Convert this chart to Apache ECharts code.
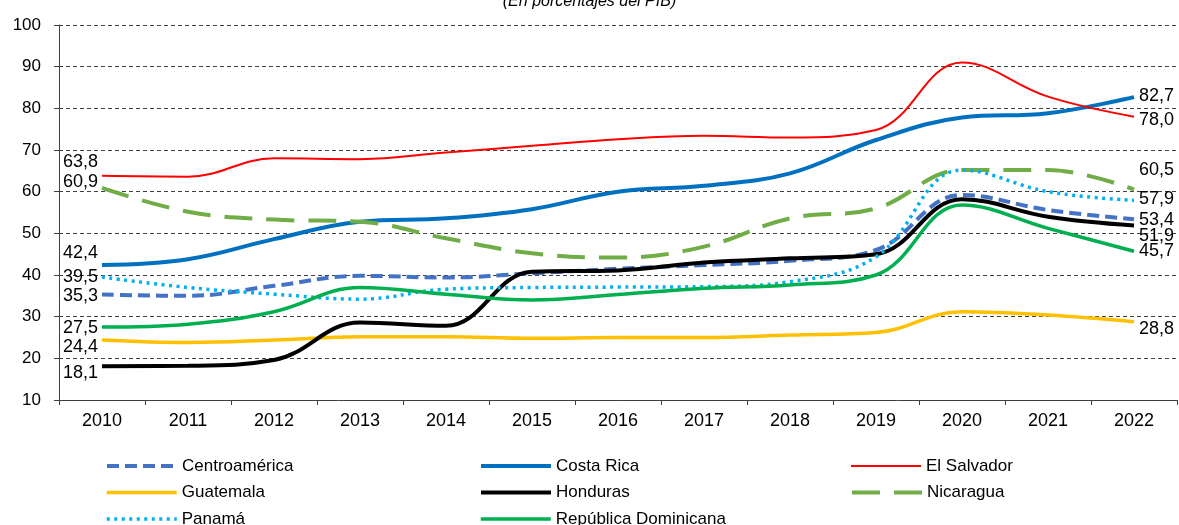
<!DOCTYPE html>
<html>
<head>
<meta charset="utf-8">
<script src="https://cdn.jsdelivr.net/npm/echarts@6/dist/echarts.min.js"></script>
<style>
html,body{margin:0;padding:0;background:#fff;}
#chart{width:1179px;height:525px;}
</style>
</head>
<body>
<div id="chart"></div>
<script>
const subtitle = '(En porcentajes del PIB)';
const years = ['2010','2011','2012','2013','2014','2015','2016','2017','2018','2019','2020','2021','2022'];
const yTicks = {min: 10, max: 100, interval: 10};

const centroamerica = [35.3, 35.0, 37.4, 39.8, 39.4, 40.4, 41.5, 42.4, 43.4, 46.0, 59.2, 55.6, 53.4];
const costaRica     = [42.4, 43.8, 48.6, 52.8, 53.6, 55.8, 60.0, 61.4, 64.4, 72.4, 77.8, 78.8, 82.7];
const elSalvador    = [63.8, 63.6, 68.0, 67.8, 69.4, 71.0, 72.6, 73.4, 73.0, 74.8, 91.0, 82.8, 78.0];
const guatemala     = [24.4, 23.8, 24.4, 25.2, 25.2, 24.8, 25.0, 25.0, 25.6, 26.2, 31.2, 30.4, 28.8];
const honduras      = [18.1, 18.2, 19.6, 28.6, 27.8, 40.8, 41.1, 43.0, 44.0, 45.0, 58.2, 54.0, 51.9];
const nicaragua     = [60.9, 55.2, 53.3, 52.8, 48.8, 45.2, 44.2, 46.8, 53.6, 56.0, 65.2, 65.2, 60.5];
const panama        = [39.5, 37.0, 35.4, 34.2, 36.6, 37.0, 37.1, 37.2, 38.4, 44.4, 65.2, 60.0, 57.9];
const repDom        = [27.5, 28.2, 31.2, 37.0, 35.4, 34.0, 35.3, 36.8, 37.6, 40.0, 56.8, 51.2, 45.7];

const seriesNames = ['Centroamérica','Costa Rica','El Salvador','Guatemala','Honduras','Nicaragua','Panamá','República Dominicana'];

// styles (kept separate from data)
const styles = {
  'Centroamérica':        {color:'#4472C4', width:4,   type:[12,6],  first:[0,1],   last:[0,1]},
  'Costa Rica':           {color:'#0070C0', width:4,   type:'solid', first:[0,-12], last:[0,-1]},
  'El Salvador':          {color:'#FF0000', width:2,   type:'solid', first:[0,-14], last:[0,3]},
  'Guatemala':            {color:'#FFC000', width:3.5, type:'solid', first:[0,7],   last:[0,7]},
  'Honduras':             {color:'#000000', width:4,   type:'solid', first:[0,7],   last:[0,11]},
  'Nicaragua':            {color:'#70AD47', width:4,   type:[28,14], first:[0,-6],  last:[0,-20]},
  'Panamá':               {color:'#00B0F0', width:3.5, type:[3,4.5], first:[0,0],   last:[0,-1]},
  'República Dominicana': {color:'#00B050', width:3.5, type:'solid', first:[0,1],   last:[0,0]}
};
const values = {
  'Centroamérica': centroamerica, 'Costa Rica': costaRica, 'El Salvador': elSalvador,
  'Guatemala': guatemala, 'Honduras': honduras, 'Nicaragua': nicaragua,
  'Panamá': panama, 'República Dominicana': repDom
};
// legend placement: [left, row-center y]
const legendPos = {
  'Centroamérica':[105,466], 'Guatemala':[105,492.5], 'Panamá':[105,519],
  'Costa Rica':[479,466], 'Honduras':[479,492.5], 'República Dominicana':[479,519],
  'El Salvador':[850,466], 'Nicaragua':[850,492.5]
};

const fmt = v => v.toFixed(1).replace('.', ',');
const FONT = 'Liberation Sans, Arial, sans-serif';
const labelFont = {fontFamily:FONT, fontSize:18, color:'#000'};

const series = seriesNames.map(name => {
  const st = styles[name];
  const arr = values[name];
  const last = arr.length - 1;
  const data = arr.map((v, i) => {
    if (i === 0) return {value: v, label: Object.assign({show:true, position:'left', distance:4, offset: st.first, formatter: p => fmt(p.value)}, labelFont)};
    if (i === last) return {value: v, label: Object.assign({show:true, position:'right', distance:5, offset: st.last, formatter: p => fmt(p.value)}, labelFont)};
    return v;
  });
  return {
    name, type:'line', data, smooth:0.4,
    symbol:'circle', symbolSize:0, showSymbol:true, showAllSymbol:true,
    label:{show:false},
    lineStyle:{color: st.color, width: st.width, type: st.type, cap:'butt'},
    itemStyle:{color: st.color},
    emphasis:{disabled:true},
    animation:false,
    z: 2
  };
});

const legends = seriesNames.map(n => ({
  show:true, orient:'horizontal', left: legendPos[n][0], top: legendPos[n][1] - 9,
  padding:0, itemWidth:70, itemHeight:18, itemGap:0,
  textStyle:{fontFamily:FONT, fontSize:17, color:'#000', lineHeight:18},
  data:[{name:n, itemStyle:{opacity:0}, lineStyle:{width: styles[n].width, type: styles[n].type, color: styles[n].color}}],
  selectedMode:false
}));

const chart = echarts.init(document.getElementById('chart'), null, {renderer:'canvas'});
chart.setOption({
  animation:false,
  backgroundColor:'#fff',
  title:{text: subtitle, left:'center', top:-11,
    textStyle:{fontFamily:FONT, fontSize:16, fontStyle:'italic', fontWeight:'normal', color:'#000'}},
  grid:{left:59, right:2, top:25, bottom:125, containLabel:false},
  xAxis:{
    type:'category', data: years, boundaryGap:true,
    axisLine:{lineStyle:{color:'#404040', width:1}},
    axisTick:{show:true, alignWithLabel:false, length:5, lineStyle:{color:'#404040'}},
    axisLabel:{margin:12, fontFamily:FONT, fontSize:18, color:'#000'},
    splitLine:{show:false}
  },
  yAxis:{
    type:'value', min: yTicks.min, max: yTicks.max, interval: yTicks.interval,
    axisLine:{show:true, lineStyle:{color:'#404040', width:1}},
    axisTick:{show:true, length:5, lineStyle:{color:'#404040'}},
    axisLabel:{margin:18, fontFamily:FONT, fontSize:17, color:'#000'},
    splitLine:{show:true, lineStyle:{color:'#404040', width:1, type:[4,3]}}
  },
  legend: legends,
  series
});
</script>
</body>
</html>
